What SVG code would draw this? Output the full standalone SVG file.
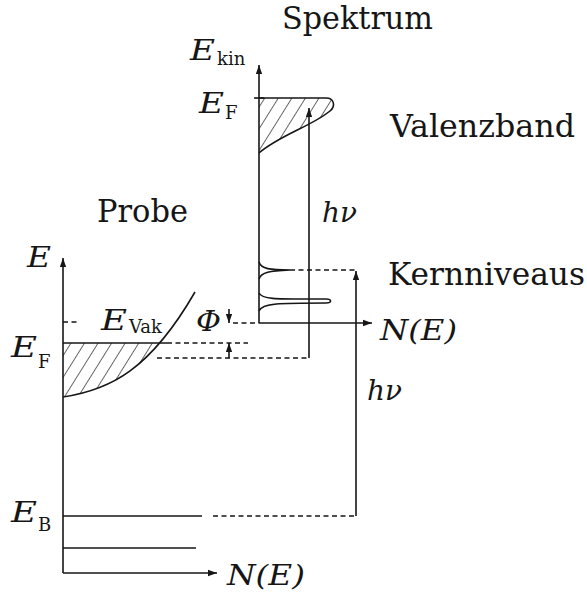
<svg xmlns="http://www.w3.org/2000/svg" width="587" height="597" viewBox="0 0 587 597">
<style>
.ln{stroke:#161616;stroke-width:1.6;fill:none}
.ds{stroke:#161616;stroke-width:1.5;fill:none;stroke-dasharray:5 3.5}
text{font-family:"DejaVu Serif","Liberation Serif",serif;fill:#161616}
.lbl{font-size:31px}
.mi{font-style:italic;font-size:28px}
.sub{font-size:18px}
.hatch{fill:url(#hp);stroke:none}
</style>
<defs>
<marker id="ah" viewBox="0 0 10 10" refX="10" refY="5" markerWidth="9" markerHeight="9" markerUnits="userSpaceOnUse" orient="auto">
<path d="M0,1.5 L10,5 L0,8.5 Z" fill="#161616"/>
</marker>
<pattern id="hp" patternUnits="userSpaceOnUse" width="11.5" height="12" patternTransform="rotate(32)">
<line x1="0" y1="0" x2="0" y2="12" stroke="#161616" stroke-width="1.3"/>
</pattern>
<clipPath id="belowEF"><rect x="63" y="343" width="200" height="80"/></clipPath>
</defs>

<g id="probe">
<g clip-path="url(#belowEF)">
<path class="hatch" d="M63,397 C110,390 150,370 195,292 L63,292 Z"/>
</g>
<path class="ln" d="M63,397 C110,390 150,370 195,292"/>
<line class="ln" x1="63" y1="343" x2="167" y2="343"/>
<line class="ln" x1="63" y1="516" x2="202" y2="516"/>
<line class="ln" x1="63" y1="548" x2="196" y2="548"/>
<line class="ds" x1="63" y1="322" x2="78" y2="322"/>
</g>

<g id="spectrum">
<path class="hatch" d="M259,98 L326,98 C334,98 336,106 330,111 C312,126 280,135 259,153 Z"/>
<path class="ln" d="M259,98 L326,98 C334,98 336,106 330,111 C312,126 280,135 259,153"/>
<line class="ln" x1="254" y1="98" x2="264" y2="98"/>
<path class="ln" d="M259,262 C261,269 270,270 290,270 C270,271 261,272 259,279"/>
<path class="ln" d="M259,293 C262,300 280,299 326,299 C332,299 332,303 326,303 C280,303 262,303 259,311"/>
</g>

<g id="connectors">
<line class="ln" x1="63" y1="573" x2="63" y2="258" marker-end="url(#ah)"/>
<line class="ln" x1="63" y1="573" x2="217" y2="573" marker-end="url(#ah)"/>
<line class="ln" x1="259" y1="323" x2="259" y2="65" marker-end="url(#ah)"/>
<line class="ln" x1="259" y1="323" x2="372" y2="323" marker-end="url(#ah)"/>
<line class="ln" x1="309" y1="358" x2="309" y2="108" marker-end="url(#ah)"/>
<line class="ln" x1="356" y1="516" x2="356" y2="271" marker-end="url(#ah)"/>
<line class="ds" x1="290" y1="270" x2="356" y2="270"/>
<line class="ds" x1="213" y1="516" x2="356" y2="516"/>
<line class="ds" x1="167" y1="343" x2="248" y2="343"/>
<line class="ds" x1="157" y1="358" x2="309" y2="358"/>
<line class="ds" x1="233" y1="323" x2="259" y2="323"/>
<line class="ln" x1="229" y1="309" x2="229" y2="323" marker-end="url(#ah)"/>
<line class="ln" x1="229" y1="358" x2="229" y2="343" marker-end="url(#ah)"/>
</g>

<g id="labels">
<text class="lbl" x="282" y="29" textLength="151" lengthAdjust="spacingAndGlyphs">Spektrum</text>
<text class="mi" x="190" y="60" textLength="25" lengthAdjust="spacingAndGlyphs">E</text><text class="sub" x="217" y="65">kin</text>
<text class="mi" x="199" y="113" textLength="25" lengthAdjust="spacingAndGlyphs">E</text><text class="sub" x="225" y="119">F</text>
<text class="lbl" x="390" y="137" textLength="185" lengthAdjust="spacingAndGlyphs">Valenzband</text>
<text class="lbl" x="97" y="222" textLength="91" lengthAdjust="spacingAndGlyphs">Probe</text>
<text class="mi" x="322" y="222" textLength="35" lengthAdjust="spacingAndGlyphs">hν</text>
<text class="mi" x="27" y="267" textLength="24" lengthAdjust="spacingAndGlyphs">E</text>
<text class="lbl" x="388" y="285" textLength="197" lengthAdjust="spacingAndGlyphs">Kernniveaus</text>
<text class="mi" x="101" y="330" textLength="26" lengthAdjust="spacingAndGlyphs">E</text><text class="sub" x="129" y="333">Vak</text>
<text class="mi" x="196" y="331" textLength="25" lengthAdjust="spacingAndGlyphs">Φ</text>
<text class="mi" x="380" y="340" textLength="77" lengthAdjust="spacingAndGlyphs">N(E)</text>
<text class="mi" x="11" y="357" textLength="26" lengthAdjust="spacingAndGlyphs">E</text><text class="sub" x="38" y="368">F</text>
<text class="mi" x="367" y="400" textLength="35" lengthAdjust="spacingAndGlyphs">hν</text>
<text class="mi" x="11" y="522" textLength="26" lengthAdjust="spacingAndGlyphs">E</text><text class="sub" x="38" y="531">B</text>
<text class="mi" x="227" y="585" textLength="78" lengthAdjust="spacingAndGlyphs">N(E)</text>
</g>
</svg>
